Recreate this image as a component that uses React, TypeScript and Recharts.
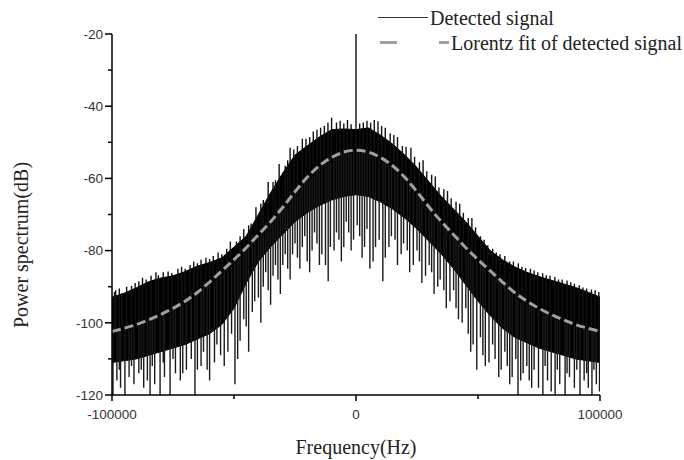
import React from "react";
import {
  ComposedChart,
  Area,
  Line,
  XAxis,
  YAxis,
  Legend,
} from "recharts";

// frequency grid (Hz) for the band and the fit
const freqs = [
  -100000, -95000, -90000, -85000, -80000, -75000, -70000, -65000, -60000, -55000,
  -50000, -45000, -40000, -35000, -30000, -25000, -20000, -15000, -10000, -5000,
  0, 5000, 10000, 15000, 20000, 25000, 30000, 35000, 40000, 45000,
  50000, 55000, 60000, 65000, 70000, 75000, 80000, 85000, 90000, 95000, 100000,
];

// top of the dense noise band (dB)
const upper = [
  -92.9, -91.8, -90.3, -88.6, -87.6, -87, -85.8, -84.3, -83.3, -82,
  -79, -76, -70, -64, -58.5, -53.5, -51, -48.5, -46.5, -46.3,
  -46.5, -46, -48, -50.5, -53.5, -57, -61, -65, -68.5, -72,
  -76, -80, -82.5, -84.5, -86, -87.2, -88.2, -89.2, -90.2, -91.5, -92.9,
];

// bottom of the dense noise band (dB)
const lower = [
  -111, -110.5, -110, -109, -108, -107, -106, -104.5, -103, -100.5,
  -96, -89, -83, -79, -75.5, -72, -69.5, -67.5, -66, -65,
  -64.5, -65, -66.5, -68.5, -71, -74, -77.5, -81, -85, -89.5,
  -94, -98, -101.5, -104, -105.5, -107, -108, -109, -110, -110.5, -111,
];

// Lorentz fit (dB)
const fit = [
  -102.4, -101.5, -100.5, -99.2, -97.7, -96, -94, -91.6, -88.7, -85.6,
  -82.5, -79.2, -75.6, -72, -68, -63.7, -59.7, -56.5, -54.2, -52.7,
  -52.2, -52.7, -54.2, -56.5, -59.7, -63.7, -68, -72, -75.6, -79.2,
  -82.5, -85.6, -88.7, -91.6, -94, -96, -97.7, -99.2, -100.5, -101.5, -102.4,
];

// downward spikes of the detected signal: frequency (Hz) and tip (dB)
const dipFreq = [
  -99600, -98000, -96500, -94700, -93000, -91000, -89000, -87000, -85500, -84400,
  -82500, -80300, -78500, -76200, -74000, -72000, -69500, -66000, -63500, -61000,
  -58000, -55500, -52500, -49600, -47500, -45000, -42500, -40000, -38000, -36000,
  -34000, -32000, -30000, -28000, -26000, -24000, -22000, -20000, -18000, -16000,
  -14000, -11400, -9000, -7000, -5000, -3000, -1000, 1500, 3500, 5700,
  8000, 11000, 13500, 16000, 18500, 21000, 23500, 26000, 28500, 31000,
  33500, 36000, 38500, 41000, 43500, 46000, 48000, 49500, 52000, 54500,
  57000, 59500, 62000, 64000, 66400, 68500, 71000, 73000, 74800, 76600,
  78500, 80000, 81600, 83500, 85700, 87500, 89500, 91800, 93500, 95200,
  96700, 98500, 99800,
  -97000, -92000, -88000, -83500, -79000, -75000, -71000, -67500, -65000, -62500,
  -60000, -57000, -54000, -51000, -48500, -46000, -44000, -41500, -39000, -37000,
  -35000, -33000, -31000, -29000, -27000, -25000, -23000, -21000, -19000, -17000,
  -15000, -12500, -10500, -8000, -6000, -4000, -2000, 500, 2500, 4500,
  7000, 9500, 12000, 14500, 17000, 19500, 22000, 25000, 27000, 30000,
  32000, 34500, 37000, 40000, 42000, 45000, 47000, 51000, 53000, 56000,
  58500, 61000, 63000, 65500, 67500, 70000, 72000, 77500, 82500, 86500,
  90500, 94500, 97500,
];
const dipTip = [
  -120, -116, -118, -120, -115, -117, -114, -118, -116, -120,
  -117, -120, -115, -120, -114, -116, -113, -120, -112, -113,
  -111, -109, -108, -117, -105, -101, -97, -93, -90, -91,
  -87, -88, -84, -85, -81, -82, -79, -83, -80, -78,
  -81, -88.5, -80, -77, -79, -75, -77, -76, -79, -85,
  -79, -88.5, -79, -77, -81, -80, -84, -83, -87, -86,
  -90, -91, -94, -96, -100, -103, -106, -113, -109, -111,
  -110, -113, -112, -115, -120, -114, -116, -113, -118, -120,
  -116, -119, -120, -117, -120, -115, -118, -120, -116, -118,
  -120, -117, -119,
  -113, -112, -113, -112, -111, -110, -114, -110, -113, -108,
  -116, -106, -112, -103, -110, -99, -108, -94, -100, -86,
  -95, -84, -92, -81, -88, -78, -85, -76, -86, -75,
  -84, -84, -79, -75, -83, -72, -80, -73, -82, -74,
  -83, -77, -82, -76, -84, -78, -86, -80, -89, -84,
  -92, -88, -96, -91, -99, -96, -108, -104, -112, -106,
  -115, -108, -117, -110, -116, -112, -118, -112, -113, -114,
  -113, -114, -113,
];

// upward spikes of the detected signal: frequency (Hz) and tip (dB)
const peakFreq = [
  0, -10000, -8000, -13000, -17500, -22000, -27000, -31500, -36000, -41000,
  -46000, -53000, -58500, -63500, -68000, -73000, -79000, -84000, -89000, -94000,
  -98500, 3000, 7500, 12000, 17000, 22500, 27500, 32500, 37500, 42500,
  47500, 52500, 57500, 63000, 68000, 73000, 78000, 83000, 88000, 93000, 98000,
  -99000, -97000, -96000, -92000, -90500, -87500, -86000, -82000, -81000, -77000,
  -75500, -71500, -70000, -66500, -65000, -61500, -60000, -56500, -55000, -51500,
  -49000, -47500, -44000, -43000, -39000, -38000, -34000, -33000, -29000, -28000,
  -25500, -24000, -20500, -19000, -16000, -14500, -11500, -6500, -5000, -3500, -2000,
  1500, 4500, 6000, 9000, 10500, 14000, 15500, 19000, 20500, 24000,
  26000, 29000, 31000, 34000, 36000, 39000, 41000, 44000, 46000, 49000,
  51000, 54000, 56000, 59000, 61000, 64500, 66500, 69500, 71500, 74500,
  76500, 79500, 81500, 84500, 86500, 89500, 91500, 94500, 96500, 99500,
];
const peakTip = [
  -20, -43.2, -44.5, -45.5, -47, -49, -51.5, -56, -61, -68,
  -74, -79.5, -81.5, -82.5, -84, -85, -86, -87, -88.5, -90,
  -91, -44.5, -43.8, -46, -48.5, -51.5, -55, -59.5, -63.5, -67,
  -71, -77, -80.5, -83, -84.5, -85.5, -86.8, -88, -88.8, -90.2, -91,
  -91.5, -90.5, -91.8, -89.8, -89, -87.5, -88, -86, -86.8, -85.8,
  -86.2, -84.5, -85, -83, -83.5, -82, -82.3, -80.5, -81, -77.5,
  -77.5, -76, -73, -72.5, -67, -66, -61, -60.5, -56.5, -55,
  -52, -51, -49, -48.5, -46.5, -46, -44.5, -44, -44.8, -43.8, -45,
  -44.8, -44, -44.6, -44.2, -45.5, -47.5, -48, -51, -51.2, -54,
  -55.5, -58, -59, -62.5, -63, -65.5, -66.5, -69.5, -71, -73.5,
  -76, -78.5, -79.5, -81, -81.5, -83, -83.5, -84.8, -85, -86,
  -86.3, -87, -87.3, -88, -88.3, -89.2, -89.6, -90.5, -90.8, -91.5,
];

const xTicks = [-100000, -50000, 0, 50000, 100000];
const yTicks = [-120, -110, -100, -90, -80, -70, -60, -50, -40, -30, -20];

const bandData = freqs.map((f, i) => ({ f, range: [lower[i], upper[i]] }));
const fitData = freqs.map((f, i) => ({ f, v: fit[i] }));
const fitAt = (f: number) => fit[freqs.indexOf(Math.round(f / 5000) * 5000)];
const toSegments = (fs: number[], tips: number[]) =>
  fs.flatMap((f, i) => [
    { f, v: fitAt(f) },
    { f, v: tips[i] },
    { f, v: null },
  ]);
const dipData = toSegments(dipFreq, dipTip);
const peakData = toSegments(peakFreq, peakTip);

const serif = "'Liberation Serif', 'Times New Roman', serif";
const sans = "'Liberation Sans', Arial, sans-serif";

const YTick = (props: any) => {
  const { x, y, payload } = props;
  const major = payload.value % 20 === 0;
  const len = major ? 7 : 4;
  return (
    <g>
      <line x1={x} x2={x - len} y1={y} y2={y} stroke="#000" strokeWidth={1.5} />
      {major && (
        <text x={x - 9} y={y} dy={4.8} textAnchor="end" fontSize={13.5} fontFamily={sans} fill="#333">
          {payload.value}
        </text>
      )}
    </g>
  );
};

const XTick = (props: any) => {
  const { x, y, payload } = props;
  const major = payload.value % 100000 === 0;
  const len = major ? 6 : 4;
  return (
    <g>
      <line x1={x} x2={x} y1={y} y2={y + len} stroke="#000" strokeWidth={1.5} />
      {major && (
        <text x={x} y={y + 24} textAnchor="middle" fontSize={13.5} fontFamily={sans} fill="#333">
          {payload.value}
        </text>
      )}
    </g>
  );
};

const renderLegend = () => (
  <svg width={314} height={60}>
    <line x1={8} x2={58} y1={17.5} y2={17.5} stroke="#333" strokeWidth={1} />
    <text x={60} y={18} dy={6.5} fontSize={20} fontFamily={serif} fill="#222">
      Detected signal
    </text>
    <line x1={10} x2={79} y1={42.5} y2={42.5} stroke="#a0a0a0" strokeWidth={3} strokeDasharray="17 42" />
    <text x={81} y={43} dy={6.5} fontSize={20} fontFamily={serif} fill="#222">
      Lorentz fit of detected signal
    </text>
  </svg>
);

export default function App() {
  return (
    <div style={{ position: "absolute", left: 0, top: 0, width: 684, height: 460, background: "#fff" }}>
      <ComposedChart width={684} height={460} margin={{ top: 34, right: 84, bottom: 35, left: 62 }}>
        <XAxis
          type="number"
          dataKey="f"
          domain={[-100000, 100000]}
          ticks={xTicks}
          allowDataOverflow
          height={30}
          tickSize={0}
          tickMargin={0}
          tickLine={false}
          tick={<XTick />}
          axisLine={{ stroke: "#000", strokeWidth: 1.5 }}
          label={{
            content: () => (
              <text x={356} y={447} dy={7} textAnchor="middle" fontSize={20} fontFamily={serif} fill="#222">
                Frequency(Hz)
              </text>
            ),
          }}
        />
        <YAxis
          type="number"
          domain={[-120, -20]}
          ticks={yTicks}
          allowDataOverflow
          width={50}
          tickSize={0}
          tickMargin={0}
          tickLine={false}
          tick={<YTick />}
          axisLine={{ stroke: "#000", strokeWidth: 1.5 }}
          label={{
            content: () => (
              <text
                x={21}
                y={245}
                dy={7}
                textAnchor="middle"
                fontSize={20}
                fontFamily={serif}
                fill="#222"
                transform="rotate(-90 21 245)"
              >
                Power spectrum(dB)
              </text>
            ),
          }}
        />
        <Legend
          layout="vertical"
          align="center"
          verticalAlign="middle"
          content={renderLegend}
          wrapperStyle={{ top: 0, left: 370, width: 314, height: 60 }}
        />
        <Area
          data={bandData}
          dataKey="range"
          type="linear"
          stroke="#000"
          strokeWidth={1}
          fill="#000"
          fillOpacity={1}
          isAnimationActive={false}
          legendType="none"
        />
        <Line
          data={dipData}
          dataKey="v"
          type="linear"
          stroke="#1a1a1a"
          strokeWidth={1.4}
          dot={false}
          connectNulls={false}
          isAnimationActive={false}
        />
        <Line
          data={peakData}
          dataKey="v"
          type="linear"
          stroke="#111"
          strokeWidth={1.4}
          dot={false}
          connectNulls={false}
          isAnimationActive={false}
        />
        <Line
          data={fitData}
          dataKey="v"
          type="monotone"
          stroke="#a0a0a0"
          strokeWidth={3}
          strokeDasharray="9 4"
          dot={false}
          isAnimationActive={false}
        />
      </ComposedChart>
    </div>
  );
}
